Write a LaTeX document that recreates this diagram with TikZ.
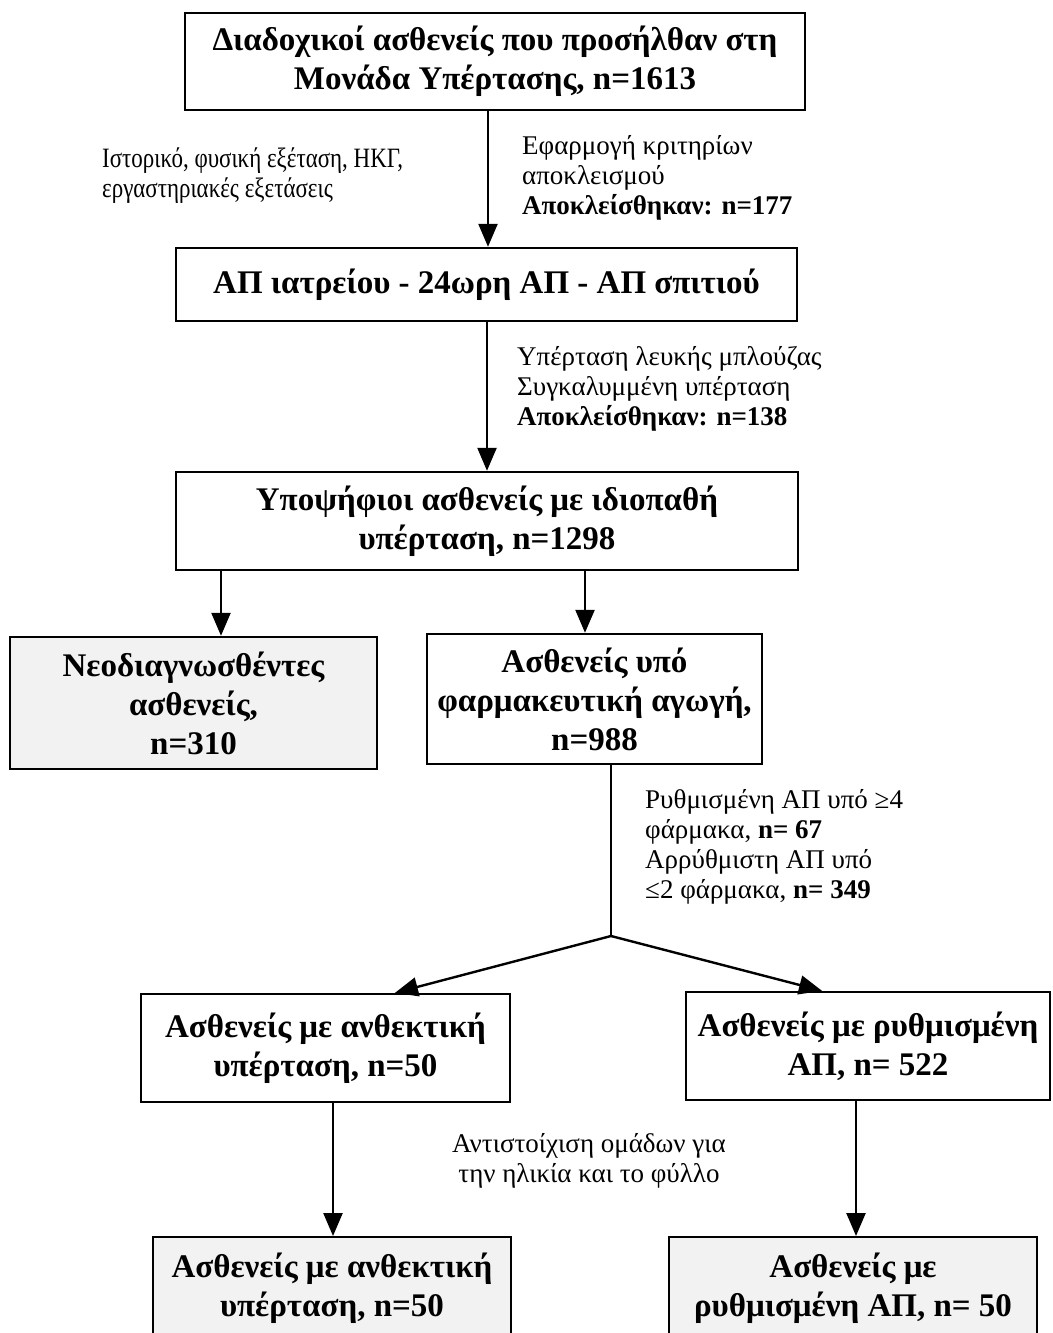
\documentclass[tikz,border=0pt]{standalone}
\usepackage{fontspec}
\setmainfont{Liberation Serif}
\newfontfamily\narrowserif[FakeStretch=0.82]{Liberation Serif}
\usetikzlibrary{arrows.meta}
\definecolor{boxgray}{HTML}{F2F2F2}
\begin{document}
\begin{tikzpicture}[x=1pt,y=-1pt,
  box/.style={draw, line width=2.4pt, inner sep=0pt, align=center,
    font=\bfseries\fontsize{33}{39}\selectfont},
  shaded/.style={box, fill=boxgray},
  note/.style={inner sep=0pt, align=left, anchor=base west,
    font=\fontsize{27}{30}\selectfont},
  link/.style={line width=2.4pt},
  arr/.style={link, -{Triangle[length=23pt,width=19pt]}}]
\useasboundingbox (0,0) rectangle (1052,1333);
\clip (0,0) rectangle (1052,1333);

% boxes
\node[box, minimum width=620, minimum height=97] (b1) at (495,61.5)
  {Διαδοχικοί ασθενείς που προσήλθαν στη\\Μονάδα Υπέρτασης, n=1613};
\node[box, minimum width=621, minimum height=73] (b2) at (486.5,284.5)
  {ΑΠ ιατρείου - 24ωρη ΑΠ - ΑΠ σπιτιού};
\node[box, minimum width=622, minimum height=98] (b3) at (487,521)
  {Υποψήφιοι ασθενείς με ιδιοπαθή\\υπέρταση, n=1298};
\node[shaded, minimum width=367, minimum height=132] (b4) at (193.5,703)
  {Νεοδιαγνωσθέντες\\ασθενείς,\\n=310};
\node[box, minimum width=335, minimum height=130] (b5) at (594.5,699)
  {Ασθενείς υπό\\φαρμακευτική αγωγή,\\n=988};
\node[box, minimum width=369, minimum height=108] (b6) at (325.5,1048)
  {Ασθενείς με ανθεκτική\\υπέρταση, n=50};
\node[box, minimum width=364, minimum height=108] (b7) at (868,1046)
  {Ασθενείς με ρυθμισμένη\\ΑΠ, n= 522};
\node[shaded, minimum width=358, minimum height=102, anchor=north] (b8) at (332,1236)
  {Ασθενείς με ανθεκτική\\υπέρταση, n=50};
\node[shaded, minimum width=368, minimum height=102, anchor=north] (b9) at (853,1236)
  {Ασθενείς με\\ρυθμισμένη ΑΠ, n= 50};

% connector columns
\coordinate (c1) at (488,0);
\coordinate (c2) at (487,0);
\coordinate (c3) at (221,0);
\coordinate (c4) at (585,0);
\coordinate (c5) at (611,0);
\coordinate (c6) at (395,0);
\coordinate (c7) at (822,0);
\coordinate (c8) at (333,0);
\coordinate (c9) at (856,0);
\coordinate (br) at (611,936);

\draw[arr] (b1.south -| c1) -- (b2.north -| c1);
\draw[arr] (b2.south -| c2) -- (b3.north -| c2);
\draw[arr] (b3.south -| c3) -- (b4.north -| c3);
\draw[arr] (b3.south -| c4) -- (b5.north -| c4);
\draw[link] (b5.south -| c5) -- (br);
\draw[arr] (br) -- (b6.north -| c6);
\draw[arr] (br) -- (b7.north -| c7);
\draw[arr] (b6.south -| c8) -- (b8.north -| c8);
\draw[arr] (b7.south -| c9) -- (b9.north -| c9);

% side notes (each placed at the baseline of its last line)
\node[note, font=\narrowserif\fontsize{28}{30}\selectfont] (n1) at (102,197)
  {Ιστορικό, φυσική εξέταση, ΗΚΓ,\\εργαστηριακές εξετάσεις};
\node[note] (n2) at (522,214)
  {Εφαρμογή κριτηρίων\\αποκλεισμού\\\textbf{Αποκλείσθηκαν: n=177}};
\node[note] (n3) at (517,425)
  {Υπέρταση λευκής μπλούζας\\Συγκαλυμμένη υπέρταση\\\textbf{Αποκλείσθηκαν: n=138}};
\node[note] (n4) at (645,898)
  {Ρυθμισμένη ΑΠ υπό ≥4\\φάρμακα, \textbf{n= 67}\\Αρρύθμιστη ΑΠ υπό\\≤2 φάρμακα, \textbf{n= 349}};
\node[note, anchor=base, align=center] (n5) at (589,1182)
  {Αντιστοίχιση ομάδων για\\την ηλικία και το φύλλο};
\end{tikzpicture}
\end{document}
